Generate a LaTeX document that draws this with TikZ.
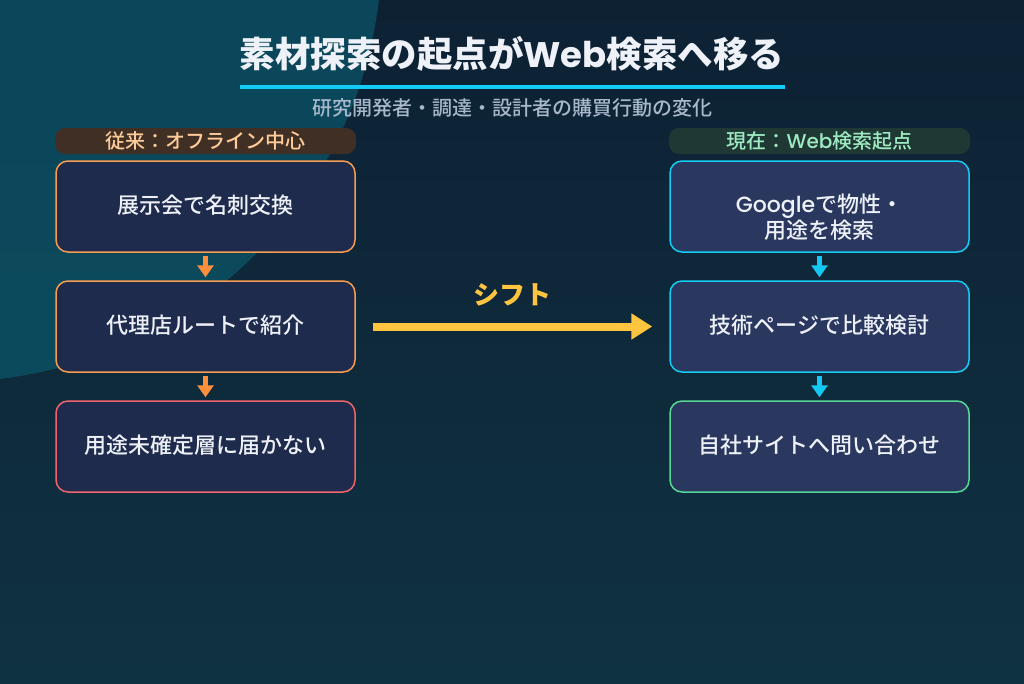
\documentclass[tikz,border=0pt]{standalone}
\usepackage{fontspec}
\setmainfont{Noto Sans CJK JP Medium}[BoldFont={Noto Sans CJK JP Black}]
\newfontfamily\latinfont{Poppins Medium}[BoldFont={Poppins Bold}]
\usetikzlibrary{arrows.meta}
\definecolor{bgtop}{HTML}{0D2133}
\definecolor{bgbot}{HTML}{0F3242}
\definecolor{blobtop}{HTML}{0B4058}
\definecolor{blobbot}{HTML}{0B4A5C}
\definecolor{boxleft}{HTML}{1F2B4D}
\definecolor{boxright}{HTML}{2A3860}
\definecolor{lineorange}{HTML}{F89C50}
\definecolor{linered}{HTML}{F0646E}
\definecolor{linecyan}{HTML}{13CCF5}
\definecolor{linegreen}{HTML}{55D894}
\definecolor{arroworange}{HTML}{FF8F3A}
\definecolor{arrowcyan}{HTML}{13C8F2}
\definecolor{shiftyellow}{HTML}{FFC53F}
\definecolor{textlight}{HTML}{EEF2F8}
\definecolor{subgrey}{HTML}{A7B8CC}
\begin{document}
\begin{tikzpicture}[x=1pt,y=-1pt,
	flowbox/.style={rounded corners=12pt,minimum width=299pt,minimum height=91pt,line width=1.5pt,inner sep=0pt,text height=18.4pt,text depth=3.6pt,text=textlight,font=\fontsize{22}{26}\selectfont},
	chipbox/.style={rounded corners=10pt,minimum width=301pt,minimum height=26pt,inner sep=0pt,font=\fontsize{20}{24}\selectfont},
	downarrow/.style={line width=5pt,-{Triangle[length=12pt,width=16pt]},shorten >=3pt,shorten <=3pt}]
	\useasboundingbox (0,0) rectangle (1024,683);
	\fill[top color=bgtop,bottom color=bgbot] (0,0) rectangle (1024,683);
	\begin{scope}
		\clip (0,0) rectangle (1024,683);
		\path[top color=blobtop,bottom color=blobbot,shading angle=0] (-52,-52) circle (434pt);
	\end{scope}
	% title
	\node[text=textlight,font=\fontsize{35.5}{40}\bfseries\selectfont] (title) at (512,54) {素材探索の起点が{\latinfont Web}検索へ移る};
	\fill[linecyan] (240,85) rectangle (785,89);
	\node[text=subgrey,font=\fontsize{20}{24}\selectfont] (subtitle) at (512,108) {研究開発者・調達・設計者の購買行動の変化};
	% left column
	\node[chipbox,fill={rgb,255:red,64;green,47;blue,37},text={rgb,255:red,255;green,204;blue,153}] (oldchip) at (205.5,141) {従来：オフライン中心};
	\node[flowbox,draw=lineorange,fill=boxleft] (old1) at (205.5,206.5) {展示会で名刺交換};
	\node[flowbox,draw=lineorange,fill=boxleft] (old2) at (205.5,326.5) {代理店ルートで紹介};
	\node[flowbox,draw=linered,fill=boxleft] (old3) at (205.5,446.5) {用途未確定層に届かない};
	\draw[downarrow,arroworange] (old1) -- (old2);
	\draw[downarrow,arroworange] (old2) -- (old3);
	% right column
	\node[chipbox,fill={rgb,255:red,32;green,56;blue,52},text={rgb,255:red,158;green,235;blue,195}] (newchip) at (819.5,141) {現在：{\latinfont Web}検索起点};
	\node[flowbox,draw=linecyan,fill=boxright] (new1) at (819.5,206.5) {};
	\node[text=textlight,align=center,font=\fontsize{22}{26}\selectfont] (new1text) at (819.5,217.5) {{\latinfont Google}で物性・\\用途を検索};
	\node[flowbox,draw=linecyan,fill=boxright] (new2) at (819.5,326.5) {技術ページで比較検討};
	\node[flowbox,draw=linegreen,fill=boxright] (new3) at (819.5,446.5) {自社サイトへ問い合わせ};
	\draw[downarrow,arrowcyan] (new1) -- (new2);
	\draw[downarrow,arrowcyan] (new2) -- (new3);
	% shift arrow
	\draw[shiftyellow,line width=8pt,-{Triangle[length=21pt,width=25pt]},shorten <=17pt,shorten >=17pt] (old2) -- (new2);
	\node[text=shiftyellow,font=\fontsize{26}{30}\bfseries\selectfont] (shiftlabel) at (512,295) {シフト};
\end{tikzpicture}
\end{document}
